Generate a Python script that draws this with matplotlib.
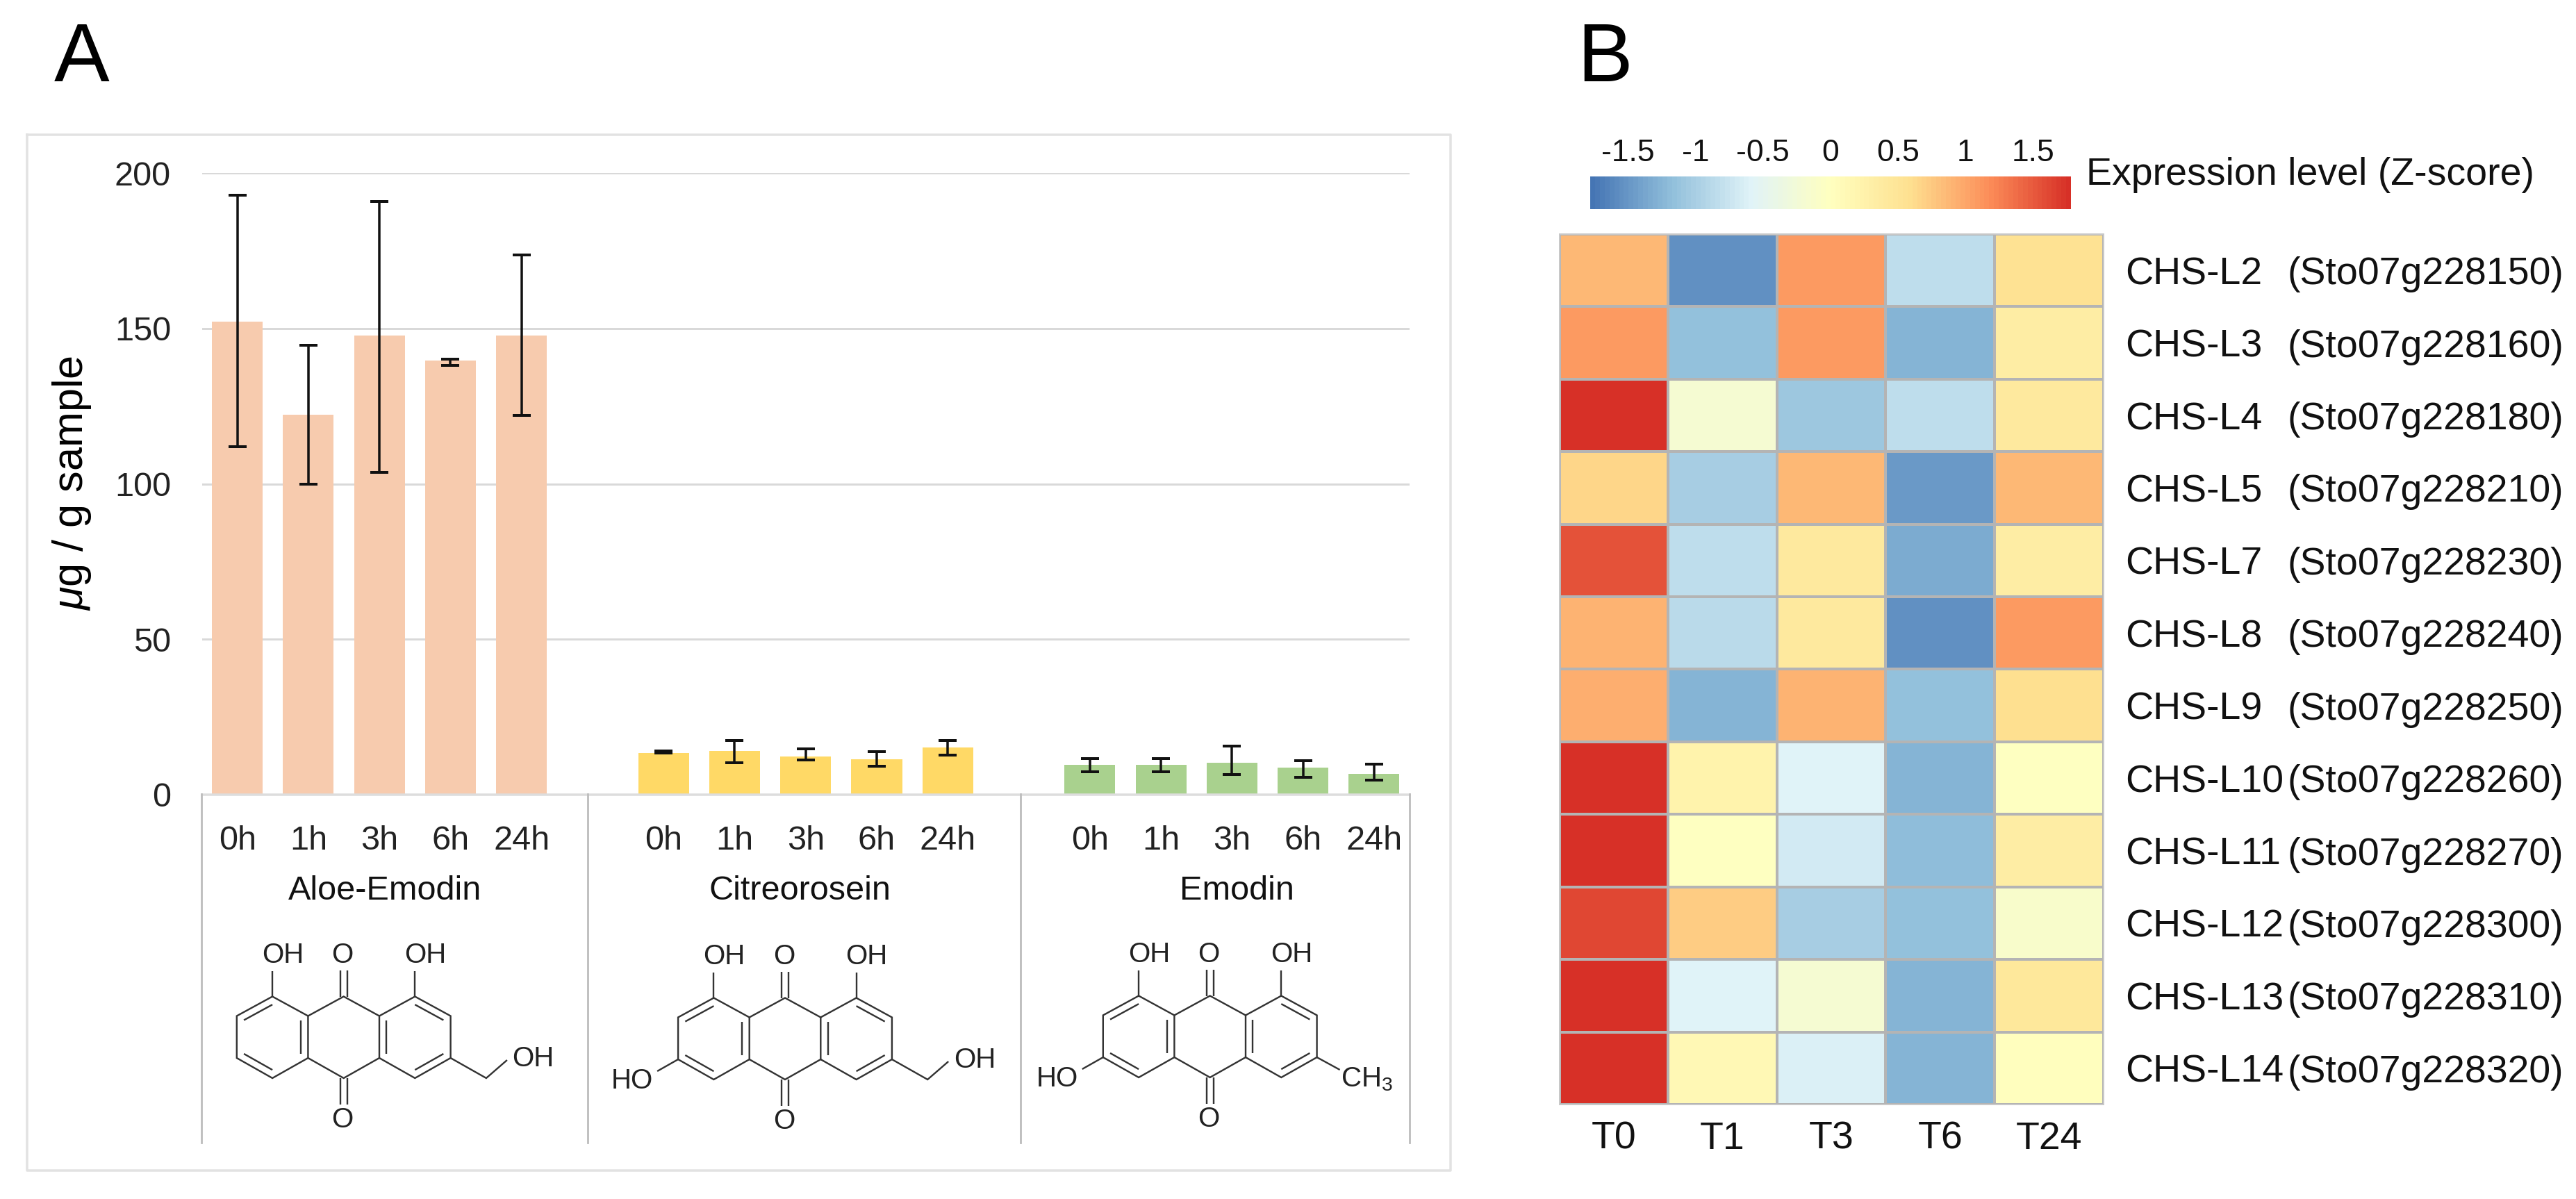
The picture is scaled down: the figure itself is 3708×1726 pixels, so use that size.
import numpy as np
import matplotlib
matplotlib.use('Agg')
import matplotlib.pyplot as plt
from matplotlib.colors import LinearSegmentedColormap

plt.rcParams['font.family'] = ['Liberation Sans', 'DejaVu Sans']
plt.rcParams['mathtext.fontset'] = 'custom'
plt.rcParams['mathtext.rm'] = 'Liberation Sans'
plt.rcParams['mathtext.it'] = 'Liberation Sans:italic'
plt.rcParams['mathtext.default'] = 'regular'

# panel A data
hours = ['0h', '1h', '3h', '6h', '24h']
compounds = ['Aloe-Emodin', 'Citreorosein', 'Emodin']
aloe = [152.2, 122.3, 147.7, 139.7, 147.7]
aloe_low = [112, 100, 103.7, 138.1, 122]
aloe_high = [193, 144.7, 191, 140.2, 173.8]
citreo = [13.3, 14, 12.3, 11.3, 15]
citreo_low = [13.2, 10.1, 11, 9.1, 12.7]
citreo_high = [13.9, 17.3, 14.7, 13.7, 17.4]
emodin = [9.5, 9.5, 10.2, 8.6, 6.7]
emodin_low = [7.2, 7.2, 6.3, 5.4, 4.5]
emodin_high = [11.6, 11.6, 15.5, 10.8, 9.8]

# panel B data
genes = ['CHS-L2', 'CHS-L3', 'CHS-L4', 'CHS-L5', 'CHS-L7', 'CHS-L8', 'CHS-L9',
         'CHS-L10', 'CHS-L11', 'CHS-L12', 'CHS-L13', 'CHS-L14']
gene_ids = ['228150', '228160', '228180', '228210', '228230', '228240', '228250',
            '228260', '228270', '228300', '228310', '228320']
times = ['T0', 'T1', 'T3', 'T6', 'T24']
zscores = [
    [0.88, -1.55, 1.07, -0.85, 0.55],
    [1.08, -1.15, 1.07, -1.28, 0.35],
    [1.78, -0.20, -1.08, -0.82, 0.42],
    [0.66, -1.02, 0.88, -1.47, 0.88],
    [1.55, -0.83, 0.42, -1.35, 0.33],
    [0.92, -0.87, 0.42, -1.55, 1.10],
    [0.95, -1.27, 0.90, -1.15, 0.60],
    [1.78, 0.22, -0.60, -1.27, -0.03],
    [1.78, -0.02, -0.68, -1.20, 0.33],
    [1.62, 0.72, -1.00, -1.15, -0.12],
    [1.78, -0.58, -0.20, -1.25, 0.45],
    [1.78, 0.13, -0.62, -1.27, 0.02],
]
cbar_ticks = [-1.5, -1, -0.5, 0, 0.5, 1, 1.5]
cbar_labels = ['-1.5', '-1', '-0.5', '0', '0.5', '1', '1.5']

W, H = 3708, 1726
PT = 0.72  # pixels to points at dpi 100


def place(x0, y0, x1, y1):
    return fig.add_axes([x0 / W, 1 - y1 / H, (x1 - x0) / W, (y1 - y0) / H])


fig = plt.figure(figsize=(W / 100, H / 100), dpi=100)

# overlay in pixel coordinates for frame, dividers and structures
ov = fig.add_axes([0, 0, 1, 1], zorder=3)
ov.set_xlim(0, W)
ov.set_ylim(H, 0)
ov.axis('off')
ov.patch.set_alpha(0)

ov.text(78, 117, 'A', fontsize=86, color='black')
ov.text(2270, 117, 'B', fontsize=86, color='black')
ov.plot([39, 2088, 2088, 39, 39], [194, 194, 1685, 1685, 194], color='#E2E2E2', lw=3.5 * PT)

# bars
ax = place(290.5, 249.5, 2029, 1143.5)
ax.set_xlim(-0.5, 16.5)
ax.set_ylim(0, 200)
groups = [(0, aloe, aloe_low, aloe_high, '#F7CBAE'),
          (6, citreo, citreo_low, citreo_high, '#FFD966'),
          (12, emodin, emodin_low, emodin_high, '#A9D18E')]
xticks, xlabels = [], []
for start, vals, low, high, col in groups:
    x = start + np.arange(5)
    ax.bar(x, vals, width=0.715, color=col, zorder=2)
    vals = np.array(vals)
    ax.errorbar(x, vals, yerr=[vals - np.array(low), np.array(high) - vals], fmt='none',
                ecolor='#111111', elinewidth=3.5 * PT, capsize=13 * PT, capthick=4 * PT, zorder=3)
    xticks += list(x)
    xlabels += hours
ax.set_xticks(xticks)
ax.set_xticklabels(xlabels, fontsize=35)
ax.set_yticks([0, 50, 100, 150, 200])
ax.tick_params(axis='both', length=0, labelsize=35, colors='#222222')
ax.tick_params(axis='x', pad=32)
ax.tick_params(axis='y', pad=32)
ax.grid(axis='y', color='#D9D9D9', lw=3 * PT, zorder=0)
ax.set_axisbelow(True)
for side in ['top', 'right', 'left']:
    ax.spines[side].set_visible(False)
ax.spines['bottom'].set_color('#DDDDDD')
ax.spines['bottom'].set_linewidth(3.5 * PT)
ax.spines['bottom'].set_zorder(4)

ov.text(104, 695, r'$\mathit{\mu}$g / g sample', rotation=90, fontsize=44, ha='center', va='center', color='black')

# group dividers under the axis
for xd in [290.5, 845.6, 1469, 2029]:
    ov.plot([xd, xd], [1143, 1645], color='#BDBDBD', lw=2.8 * PT)
for name, xc in zip(compounds, [554, 1151, 1780]):
    ov.text(xc, 1282, name, fontsize=35, ha='center', va='center', color='#111111')


def bond(pts, lw=2.4):
    p = np.array(pts)
    ov.plot(p[:, 0], p[:, 1], color='#333333', lw=lw * PT, solid_joinstyle='miter', solid_capstyle='butt')


def structure(cx, cy, left_ho, tail):
    a, y1, y2, y3 = 51.3, 28, 88.5, 117.5
    def P(i, y):
        return (cx + i * a, cy + y)
    bond([P(-2, 0), P(-3, y1), P(-3, y2), P(-2, y3), P(-1, y2), P(-1, y1), P(-2, 0)])
    bond([P(-1, y1), P(0, 0), P(1, y1), P(1, y2), P(0, y3), P(-1, y2)])
    bond([P(1, y1), P(2, 0), P(3, y1), P(3, y2), P(2, y3), P(1, y2)])
    # inner lines of the double bonds
    mid = (y1 + y2) / 2
    for ring, pair in [(-2, (P(-2, 0), P(-3, y1))), (-2, (P(-3, y2), P(-2, y3))), (-2, (P(-1, y1), P(-1, y2))),
                       (2, (P(1, y1), P(1, y2))), (2, (P(2, 0), P(3, y1))), (2, (P(3, y2), P(2, y3)))]:
        c = np.array(P(ring, mid))
        bond([np.array(pair[0]) + 0.2 * (c - pair[0]), np.array(pair[1]) + 0.2 * (c - pair[1])])
    # C=O and OH stubs
    for dx in [-5, 5]:
        bond([(cx + dx, cy), (cx + dx, cy - 38)])
        bond([(cx + dx, cy + y3), (cx + dx, cy + y3 + 38)])
    bond([P(-2, 0), P(-2, -37)])
    bond([P(2, 0), P(2, -37)])
    lab = dict(fontsize=29, ha='center', va='center', color='#222222')
    ov.text(cx - 2 * a + 15, cy - 60, 'OH', **lab)
    ov.text(cx - 1.5, cy - 60, 'O', **lab)
    ov.text(cx + 2 * a + 15, cy - 60, 'OH', **lab)
    ov.text(cx - 1.5, cy + y3 + 60, 'O', **lab)
    if left_ho:
        bond([P(-3, y2), (cx - 3 * a - 30, cy + y2 + 17)])
        ov.text(cx - 220, cy + y3 + 2, 'HO', **lab)
    if tail == 'CH2OH':
        bond([P(3, y2), P(4, y3), (cx + 4 * a + 30, cy + y3 - 26)])
        ov.text(cx + 273, cy + 89.5, 'OH', **lab)
    else:
        bond([P(3, y2), (cx + 3 * a + 33, cy + y2 + 18)])
        ov.text(cx + 188, cy + y3 + 13, r'CH$_3$', fontsize=29, ha='left', va='baseline', color='#222222')


structure(494.7, 1434.5, False, 'CH2OH')
structure(1130, 1436.5, True, 'CH2OH')
structure(1741.7, 1433.5, True, 'CH3')

# heatmap
cmap = LinearSegmentedColormap.from_list(
    'rdylbu', ['#4575B4', '#91BFDB', '#E0F3F8', '#FFFFBF', '#FEE090', '#FC8D59', '#D73027'], N=100)
hm = place(2244.6, 337, 3027.6, 1590)
mesh = hm.pcolormesh(np.array(zscores), cmap=cmap, vmin=-1.78, vmax=1.78,
                     edgecolors='#B4B4B4', linewidth=2.2 * PT)
hm.set_ylim(len(genes), 0)
hm.set_xticks(np.arange(5) + 0.5)
hm.set_xticklabels(times, fontsize=40, color='#111111')
hm.set_yticks([])
hm.tick_params(axis='x', length=0, pad=17)
for s in hm.spines.values():
    s.set_color('#C8C8C8')
    s.set_linewidth(2 * PT)

row_h = (1590 - 337) / len(genes)
for i, (g, gid) in enumerate(zip(genes, gene_ids)):
    yb = 337 + row_h * (i + 0.5) + 20
    ov.text(3059, yb, g, fontsize=40, ha='left', va='baseline', color='#111111')
    ov.text(3690, yb, '(Sto07g' + gid + ')', fontsize=40, ha='right', va='baseline', color='#111111')

# colour key
cax = place(2289, 254, 2981, 301)
cb = fig.colorbar(mesh, cax=cax, orientation='horizontal', ticklocation='top')
cb.set_ticks(cbar_ticks)
cb.set_ticklabels(cbar_labels)
cb.ax.tick_params(length=0, labelsize=32, pad=9, labelcolor='#111111')
cb.outline.set_visible(False)
ov.text(3003, 266, 'Expression level (Z-score)', fontsize=40, ha='left', va='baseline', color='#111111')

fig.savefig('out.png', dpi=100, facecolor='white')
